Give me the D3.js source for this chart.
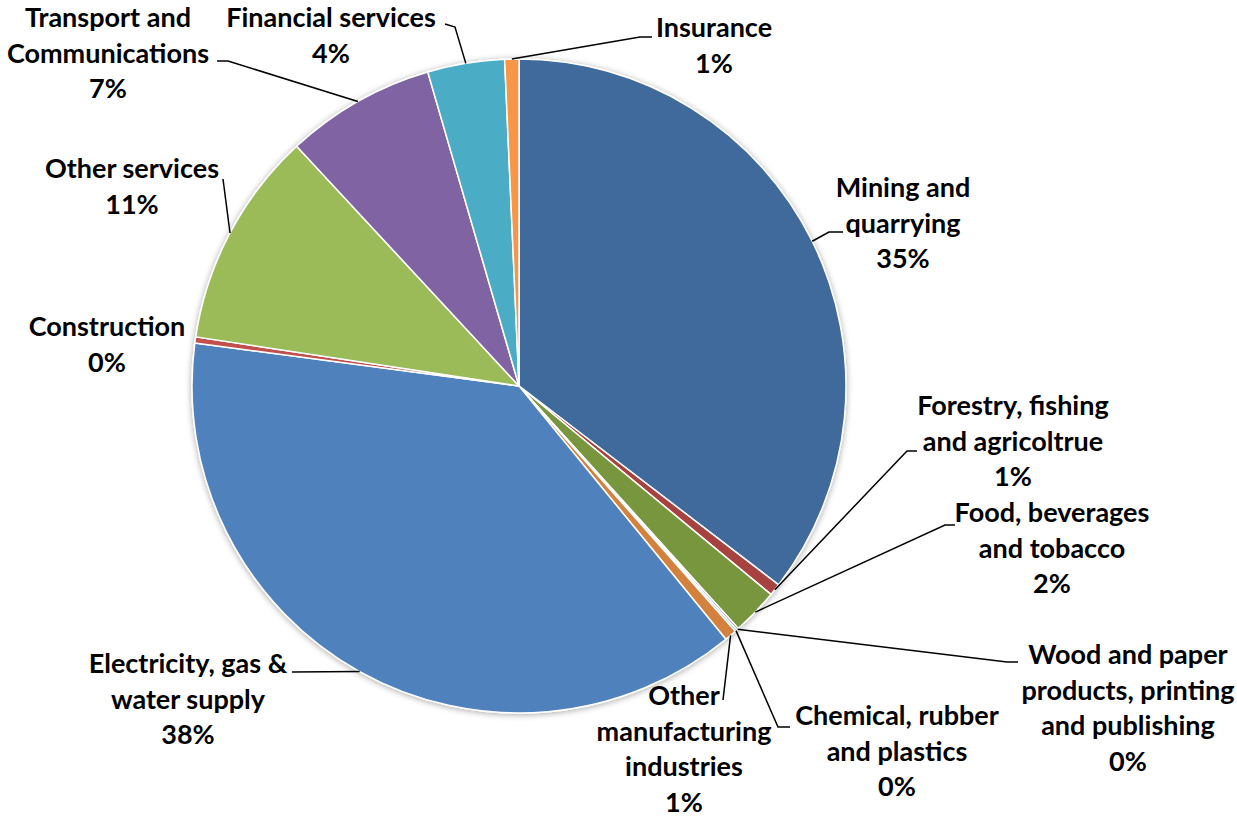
<!DOCTYPE html>
<html>
<head>
<meta charset="utf-8">
<script src="https://cdn.jsdelivr.net/npm/d3@7"></script>
<style>
  html, body { margin: 0; padding: 0; background: #ffffff; }
  svg { display: block; }
  .lbl { font-family: Lato, "Open Sans", sans-serif; font-weight: 700; font-size: 27px; fill: #000; }
</style>
</head>
<body>
<svg id="chart" width="1237" height="818"></svg>
<script>
// Sector shares (percent), clockwise from twelve o'clock
const sectors = [
  "Mining and quarrying",
  "Forestry, fishing and agricoltrue",
  "Food, beverages and tobacco",
  "Wood and paper products, printing and publishing",
  "Chemical, rubber and plastics",
  "Other manufacturing industries",
  "Electricity, gas & water supply",
  "Construction",
  "Other services",
  "Transport and Communications",
  "Financial services",
  "Insurance"
];
const shares = [35.4, 0.6, 2.3, 0.1, 0.1, 0.6, 38.0, 0.3, 10.7, 7.4, 3.8, 0.7];
const sliceColors = [
  "#416A9B", "#A8423F", "#78963D", "#6A5388", "#3A94AB", "#D4813E",
  "#4F81BD", "#C0504D", "#9BBB59", "#8064A2", "#4BACC6", "#F79646"
];
// Wrapped label lines for each sector (percentage line is appended)
const labelLines = [
  ["Mining and", "quarrying"],
  ["Forestry, fishing", "and agricoltrue"],
  ["Food, beverages", "and tobacco"],
  ["Wood and paper", "products, printing", "and publishing"],
  ["Chemical, rubber", "and plastics"],
  ["Other", "manufacturing", "industries"],
  ["Electricity, gas &", "water supply"],
  ["Construction"],
  ["Other services"],
  ["Transport and", "Communications"],
  ["Financial services"],
  ["Insurance"]
];

// Label placement: text centre x, first baseline y, leader bend points
const labelLayout = [
  { x: 903,  y: 197, leader: [[829, 232], [843, 232]] },
  { x: 1013, y: 415, leader: [[907, 451], [917, 451]] },
  { x: 1052, y: 522, leader: [[945, 525], [955, 525]] },
  { x: 1128, y: 664, leader: [[1007, 662], [1018, 662]] },
  { x: 897,  y: 725, leader: [[778, 727], [790, 727]] },
  { x: 684,  y: 705, leader: [[723, 700]] },
  { x: 188,  y: 673, leader: [[292, 672]] },
  { x: 107,  y: 336, leader: null },
  { x: 132,  y: 178, leader: [[223, 179]] },
  { x: 108,  y: 27,  leader: [[228, 61], [217, 61]] },
  { x: 331,  y: 27,  leader: [[455, 27], [445, 24]] },
  { x: 714,  y: 37,  leader: [[640, 37], [652, 37]] }
];

const cx = 519, cy = 386, radius = 327, lineGap = 35.5;

const svg = d3.select("#chart");

const defs = svg.append("defs");
const shadow = defs.append("filter").attr("id", "pieShadow")
  .attr("x", "-10%").attr("y", "-10%").attr("width", "120%").attr("height", "120%");
shadow.append("feDropShadow")
  .attr("dx", 0).attr("dy", 1).attr("stdDeviation", 3)
  .attr("flood-color", "#000").attr("flood-opacity", 0.35);

const data = sectors.map((name, i) => ({ name, value: shares[i], color: sliceColors[i], i }));

const pie = d3.pie().sort(null).value(d => d.value).startAngle(0).endAngle(2 * Math.PI);
const arcs = pie(data);
const arc = d3.arc().innerRadius(0).outerRadius(radius);

const g = svg.append("g").attr("transform", `translate(${cx},${cy})`);

g.append("g").attr("filter", "url(#pieShadow)")
  .selectAll("path")
  .data(arcs)
  .join("path")
  .attr("d", arc)
  .attr("fill", d => d.data.color)
  .attr("stroke", "#ffffff")
  .attr("stroke-width", 1.5)
  .attr("stroke-linejoin", "round");

// Leader lines start on the rim at each slice's mid angle
const rimPoint = d => {
  const a = (d.startAngle + d.endAngle) / 2;
  return [cx + radius * Math.sin(a), cy - radius * Math.cos(a)];
};

const line = d3.line();
svg.append("g")
  .selectAll("path")
  .data(arcs.filter(d => labelLayout[d.data.i].leader))
  .join("path")
  .attr("d", d => line([rimPoint(d), ...labelLayout[d.data.i].leader]))
  .attr("fill", "none")
  .attr("stroke", "#000")
  .attr("stroke-width", 1.5);

const total = d3.sum(shares);
const labels = svg.append("g")
  .selectAll("text")
  .data(arcs)
  .join("text")
  .attr("class", "lbl")
  .attr("text-anchor", "middle");

labels.each(function (d) {
  const lay = labelLayout[d.data.i];
  const lines = [...labelLines[d.data.i], Math.round(d.data.value / total * 100) + "%"];
  d3.select(this).selectAll("tspan")
    .data(lines)
    .join("tspan")
    .attr("x", lay.x)
    .attr("y", (t, k) => lay.y + k * lineGap)
    .text(t => t);
});
</script>
</body>
</html>
